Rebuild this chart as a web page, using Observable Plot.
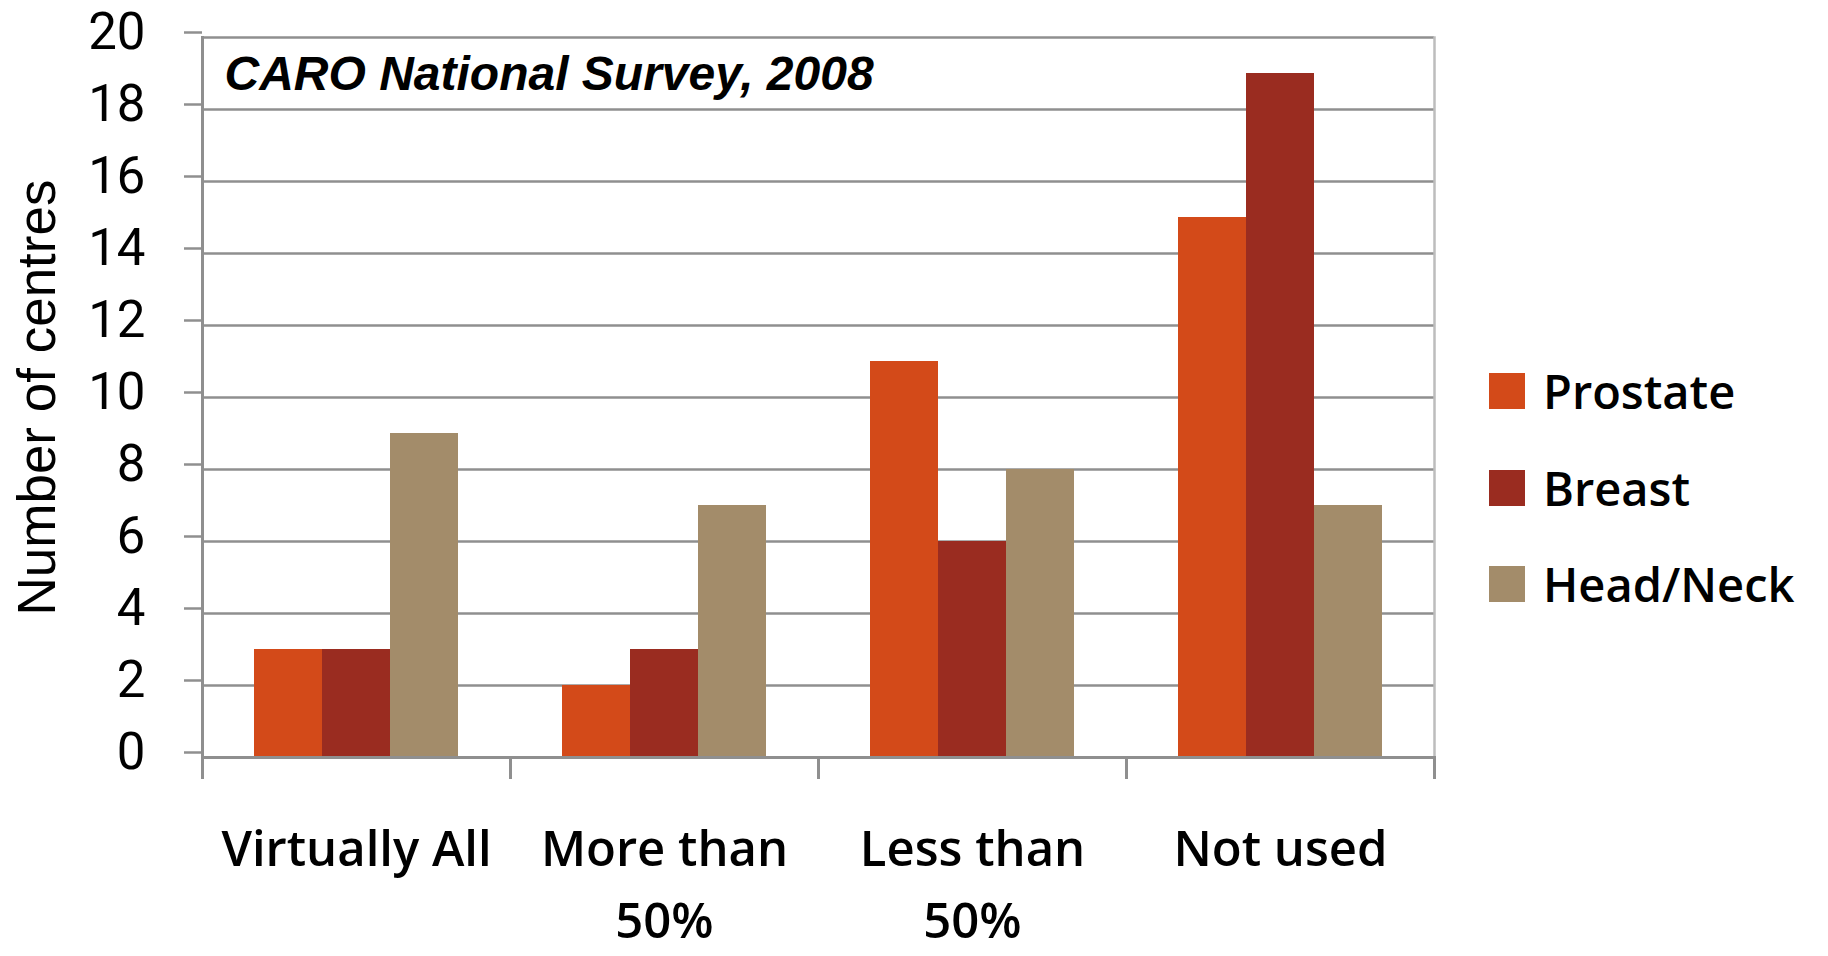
<!DOCTYPE html>
<html>
<head>
<meta charset="utf-8">
<script src="https://cdn.jsdelivr.net/npm/d3@7"></script>
<script src="https://cdn.jsdelivr.net/npm/@observablehq/plot@0.6"></script>
<style>
  html, body { margin: 0; padding: 0; background: #fff; }
  #wrap { position: relative; width: 1828px; height: 956px; }
  #legend { position: absolute; left: 1489px; top: 367px; font-family: "Open Sans", sans-serif; font-weight: 600; font-size: 47px; color: #000; }
  #legend .item { display: flex; align-items: center; height: 96.5px; margin-top: 0; }
  #legend .item:first-child { margin-top: -24px; }
  #legend .sw { width: 36px; height: 36px; margin-right: 18px; flex: none; }
</style>
</head>
<body>
<div id="wrap"><div id="legend"></div></div>
<script>
// Use of hypofractionation by treatment centre
const categories = ["Virtually All", "More than 50%", "Less than 50%", "Not used"];
const categoryLines = ["Virtually All", "More than\n50%", "Less than\n50%", "Not used"];
const series = ["Prostate", "Breast", "Head/Neck"];
const prostate = [3, 2, 11, 15];
const breast = [3, 3, 6, 19];
const headNeck = [9, 7, 8, 7];
const colors = ["#d34a19", "#9a2c20", "#a38c6a"];
const yTicks = [0, 2, 4, 6, 8, 10, 12, 14, 16, 18, 20];
const surveyLabel = "CARO National Survey, 2008";
const yLabel = "Number of centres";

const valuesBySeries = [prostate, breast, headNeck];
const rows = [];
categories.forEach((c, i) => {
  series.forEach((s, j) => rows.push({category: c, series: s, value: valuesBySeries[j][i]}));
});

const gridColor = "#8f8f8f";
const first = categories[0];
const last = categories[categories.length - 1];

const chart = Plot.plot({
  width: 1828,
  height: 956,
  marginLeft: 200,
  marginRight: 393,
  marginTop: 37,
  marginBottom: 199,
  style: {background: "transparent", overflow: "visible"},
  fx: {domain: categories, padding: 0, axis: null},
  x: {domain: series, paddingInner: 0, paddingOuter: 0.74, axis: null},
  y: {domain: [0, 20], axis: null},
  color: {domain: series, range: colors},
  marks: [
    Plot.gridY(yTicks, {stroke: gridColor, strokeOpacity: 1, strokeWidth: 2.5}),
    Plot.axisY(yTicks, {
      tickSize: 18, tickPadding: 39, stroke: gridColor, strokeWidth: 2.5,
      fontFamily: "Roboto, sans-serif", fontSize: 51, fill: "#000",
      dy: -5, label: null
    }),
    Plot.axisY([], {
      label: yLabel, labelAnchor: "center", labelArrow: "none", labelOffset: 185,
      fontFamily: "Liberation Sans, Arial, sans-serif", fontSize: 53, fill: "#000", tickSize: 0
    }),
    Plot.barY(rows, {fx: "category", x: "series", y: "value", fill: "series"}),
    Plot.ruleY([0], {stroke: gridColor, strokeWidth: 3}),
    // full left axis line, running down past the baseline
    Plot.frame({anchor: "left", fx: [first], stroke: gridColor, strokeWidth: 3, insetBottom: -20}),
    // short separators below the baseline at each category boundary
    Plot.frame({anchor: "left", stroke: gridColor, strokeWidth: 3, insetTop: 720, insetBottom: -20}),
    Plot.frame({anchor: "right", fx: [last], stroke: "#bdbdbd", strokeWidth: 2.5}),
    Plot.frame({anchor: "right", fx: [last], stroke: gridColor, strokeWidth: 3, insetTop: 720, insetBottom: -20}),
    Plot.text([surveyLabel], {
      fx: [first], text: d => d, frameAnchor: "top-left", textAnchor: "start", lineAnchor: "top",
      dx: 22, dy: 18, fontFamily: "Liberation Sans, Arial, sans-serif", fontSize: 48,
      fontWeight: "bold", fontStyle: "italic", fill: "#000"
    }),
    Plot.axisFx({
      anchor: "bottom", tickSize: 0, tickPadding: 57, label: null,
      tickFormat: d => categoryLines[categories.indexOf(d)], lineHeight: 1.47,
      fontFamily: "Open Sans, sans-serif", fontWeight: 600, fontSize: 49, fill: "#000"
    })
  ]
});

const wrap = document.getElementById("wrap");
wrap.insertBefore(chart, wrap.firstChild);

const legend = d3.select("#legend");
series.forEach((s, j) => {
  const item = legend.append("div").attr("class", "item");
  item.append("div").attr("class", "sw").style("background", colors[j]);
  item.append("span").text(s);
});
</script>
</body>
</html>
